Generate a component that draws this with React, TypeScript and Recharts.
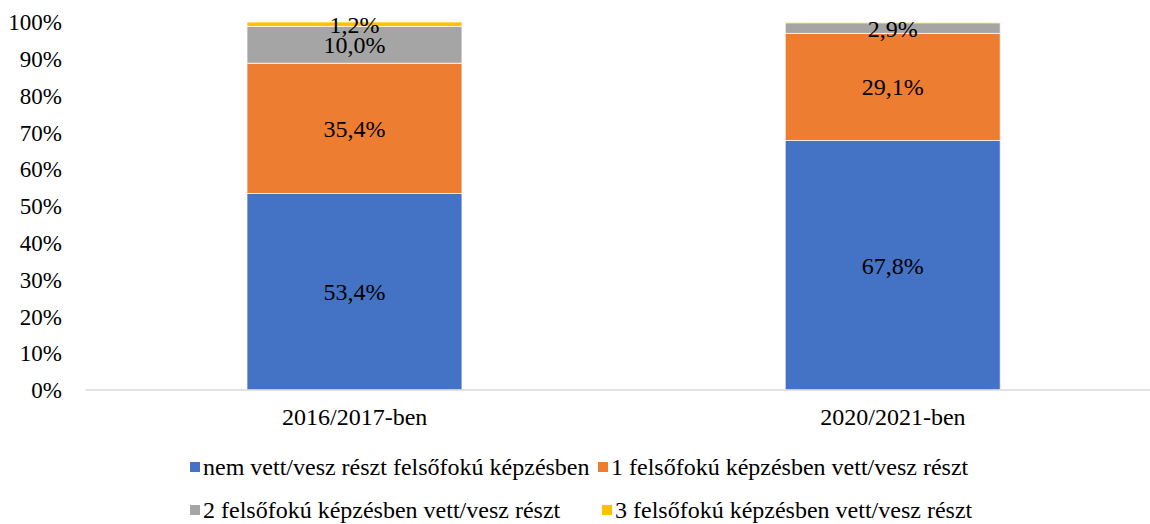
import React from 'react';
import { BarChart, Bar, XAxis, YAxis, Legend, LabelList } from 'recharts';

const categories = ['2016/2017-ben', '2020/2021-ben'];
const seriesNames = [
  'nem vett/vesz részt felsőfokú képzésben',
  '1 felsőfokú képzésben vett/vesz részt',
  '2 felsőfokú képzésben vett/vesz részt',
  '3 felsőfokú képzésben vett/vesz részt',
];
const s0 = [53.4, 67.8];
const s1 = [35.4, 29.1];
const s2 = [10.0, 2.9];
const s3 = [1.2, 0.2];
const colors = ['#4472C4', '#ED7D31', '#A5A5A5', '#FFC000'];
const yTicks = [0, 10, 20, 30, 40, 50, 60, 70, 80, 90, 100];

const data = categories.map((c, i) => ({ name: c, s0: s0[i], s1: s1[i], s2: s2[i], s3: s3[i] }));

const FONT = 'Liberation Serif';
const FS = 23;

const fmt = (v: any) => (typeof v === 'number' && v >= 0.5 ? v.toFixed(1).replace('.', ',') + '%' : '');

const LegendContent = () => {
  const item = (i: number, left: number, top: number) => (
    <div key={i} style={{ position: 'absolute', left, top, display: 'flex', alignItems: 'center', whiteSpace: 'nowrap' }}>
      <span style={{ display: 'inline-block', width: 10, height: 10, background: colors[i], marginRight: 3 }} />
      <span style={{ fontFamily: FONT, fontSize: 24, color: '#000', lineHeight: '26px' }}>{seriesNames[i]}</span>
    </div>
  );
  return (
    <div style={{ position: 'relative', width: 1150, height: 84 }}>
      {item(0, 190, 24)}
      {item(1, 598, 24)}
      {item(2, 190, 67)}
      {item(3, 602, 67)}
    </div>
  );
};

export default function App() {
  return (
    <div style={{ position: 'absolute', left: 0, top: 0, width: 1150, height: 524, overflow: 'hidden', background: '#fff' }}>
      <BarChart
        width={1180}
        height={524}
        data={data}
        margin={{ top: 22, right: 18, left: 0, bottom: 10 }}
        barCategoryGap="30%"
      >
        <XAxis
          dataKey="name"
          axisLine={{ stroke: '#D9D9D9', strokeWidth: 1.5 }}
          tickLine={false}
          tickSize={0}
          tickMargin={18}
          height={40}
          tick={{ fontFamily: FONT, fontSize: 24, fill: '#000' }}
        />
        <YAxis
          domain={[0, 100]}
          ticks={yTicks}
          width={85.5}
          axisLine={false}
          tickLine={false}
          tickSize={0}
          tickMargin={23.5}
          tickFormatter={(v: number) => v + '%'}
          tick={{ fontFamily: FONT, fontSize: FS, fill: '#000' }}
          interval={0}
        />
        <Legend verticalAlign="bottom" height={84} content={<LegendContent />} />
        {['s0', 's1', 's2', 's3'].map((k, i) => (
          <Bar key={k} dataKey={k} name={seriesNames[i]} stackId="a" fill={colors[i]} stroke="#fff" strokeWidth={0.75} isAnimationActive={false}>
            <LabelList dataKey={k} position="center" formatter={fmt} style={{ fontFamily: FONT, fontSize: 24, fill: '#000' }} />
          </Bar>
        ))}
      </BarChart>
    </div>
  );
}
